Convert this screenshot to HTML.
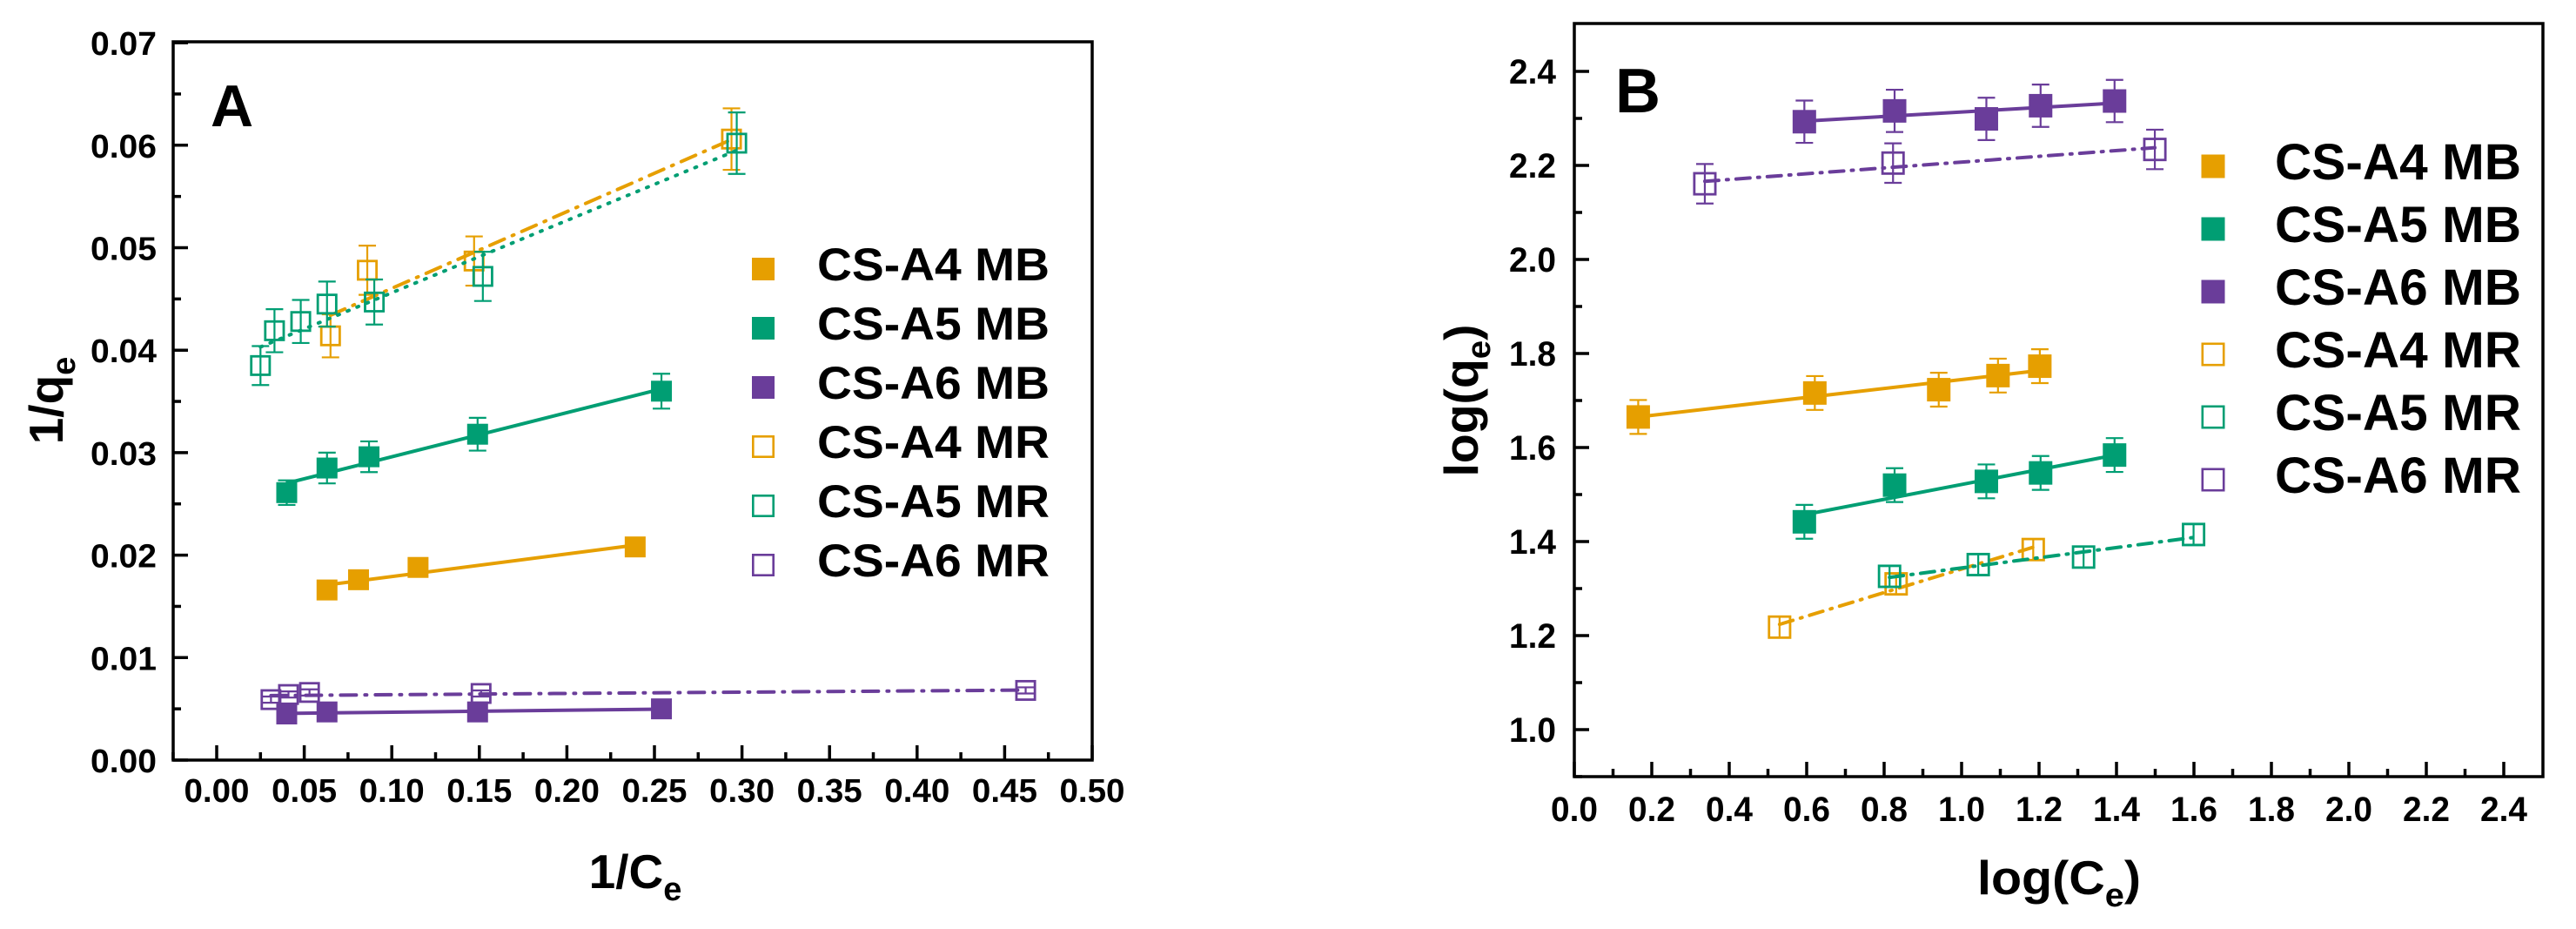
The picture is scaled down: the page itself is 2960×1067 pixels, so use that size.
<!DOCTYPE html>
<html><head><meta charset="utf-8">
<style>
html,body{margin:0;padding:0;background:#fff;}
svg{display:block;}
text{font-family:"Liberation Sans Narrow","Liberation Sans",Arial,sans-serif;font-weight:bold;fill:#000;}
</style></head>
<body>
<svg id="chart" width="2960" height="1067" viewBox="0 0 2960 1067" xmlns="http://www.w3.org/2000/svg">
  <g id="panelA"></g>
  <g id="panelB"></g>
</svg>
<script>
// ---------- Panel A data (1/Ce vs 1/qe) ----------
const seriesNames = ["CS-A4 MB","CS-A5 MB","CS-A6 MB","CS-A4 MR","CS-A5 MR","CS-A6 MR"];
const seriesColors = ["#E69F00","#009E73","#6A3D9A","#E69F00","#009E73","#6A3D9A"];
const aX_A4MB = [0.063,0.081,0.115,0.239];
const aY_A4MB = [0.0166,0.0176,0.0188,0.0208];
const aE_A4MB = [0.0006,0.0006,0.0006,0.0007];
const aX_A5MB = [0.040,0.063,0.087,0.149,0.254];
const aY_A5MB = [0.0261,0.0285,0.0296,0.0318,0.0360];
const aE_A5MB = [0.0012,0.0015,0.0015,0.0016,0.0017];
const aX_A6MB = [0.040,0.063,0.149,0.254];
const aY_A6MB = [0.0045,0.0047,0.0047,0.0050];
const aE_A6MB = [0.0002,0.0002,0.0002,0.0002];
const aX_A4MR = [0.065,0.086,0.147,0.294];
const aY_A4MR = [0.0414,0.0478,0.0487,0.0606];
const aE_A4MR = [0.0021,0.0024,0.0024,0.0030];
const aX_A5MR = [0.025,0.033,0.048,0.063,0.090,0.152,0.297];
const aY_A5MR = [0.0385,0.0419,0.0428,0.0445,0.0447,0.0472,0.0602];
const aE_A5MR = [0.0019,0.0021,0.0021,0.0022,0.0022,0.0024,0.0030];
const aX_A6MR = [0.031,0.041,0.053,0.151,0.462];
const aY_A6MR = [0.0059,0.0064,0.0066,0.0065,0.0068];
const aE_A6MR = [0.0003,0.0003,0.0003,0.0003,0.0003];
const aXTicks = [0.00,0.05,0.10,0.15,0.20,0.25,0.30,0.35,0.40,0.45,0.50];
const aXTickLabels = ["0.00","0.05","0.10","0.15","0.20","0.25","0.30","0.35","0.40","0.45","0.50"];
const aYTicks = [0.00,0.01,0.02,0.03,0.04,0.05,0.06,0.07];
const aYTickLabels = ["0.00","0.01","0.02","0.03","0.04","0.05","0.06","0.07"];

// ---------- Panel B data (log Ce vs log qe) ----------
const bX_A4MB = [0.165,0.621,0.941,1.094,1.202];
const bY_A4MB = [1.665,1.716,1.723,1.753,1.773];
const bX_A5MB = [0.594,0.827,1.064,1.204,1.395];
const bY_A5MB = [1.442,1.520,1.528,1.546,1.584];
const bX_A6MB = [0.594,0.827,1.064,1.204,1.395];
const bY_A6MB = [2.293,2.316,2.299,2.327,2.337];
const bX_A4MR = [0.530,0.831,1.185];
const bY_A4MR = [1.218,1.310,1.383];
const bX_A5MR = [0.814,1.043,1.315,1.599];
const bY_A5MR = [1.326,1.351,1.367,1.415];
const bX_A6MR = [0.337,0.823,1.499];
const bY_A6MR = [2.161,2.205,2.234];
const bErrMB = 0.036;
const bErrMR = 0.022;
const bErrA6MR = 0.042;
const bXTicks = [0.0,0.2,0.4,0.6,0.8,1.0,1.2,1.4,1.6,1.8,2.0,2.2,2.4];
const bXTickLabels = ["0.0","0.2","0.4","0.6","0.8","1.0","1.2","1.4","1.6","1.8","2.0","2.2","2.4"];
const bYTicks = [1.0,1.2,1.4,1.6,1.8,2.0,2.2,2.4];
const bYTickLabels = ["1.0","1.2","1.4","1.6","1.8","2.0","2.2","2.4"];

const NS = "http://www.w3.org/2000/svg";
function mk(parent, tag, attrs){
  const e = document.createElementNS(NS, tag);
  for (const k in attrs) e.setAttribute(k, attrs[k]);
  parent.appendChild(e);
  return e;
}
function fit(xs, ys){
  const n=xs.length; let sx=0,sy=0,sxx=0,sxy=0;
  for(let i=0;i<n;i++){sx+=xs[i];sy+=ys[i];sxx+=xs[i]*xs[i];sxy+=xs[i]*ys[i];}
  const m=(n*sxy-sx*sy)/(n*sxx-sx*sx); const b=(sy-m*sx)/n;
  return {m:m,b:b,x0:Math.min(...xs),x1:Math.max(...xs)};
}

function drawPanel(cfg){
  const g = cfg.g;
  const X = cfg.X, Y = cfg.Y;
  const frame = mk(g,"rect",{x:cfg.L,y:cfg.T,width:cfg.R-cfg.L,height:cfg.B-cfg.T,fill:"none",stroke:"#000","stroke-width":3.5});
  
  
  const xt = mk(g,"g",{});
  
  
  cfg.xTicks.forEach((v,i)=>{
    const px = X(v);
    mk(xt,"line",{x1:px,x2:px,y1:cfg.B,y2:cfg.B-17,stroke:"#000","stroke-width":3.5});
    const t = mk(xt,"text",{x:px,y:cfg.xLabBase,"text-anchor":"middle","font-size":cfg.tickFont,textLength:cfg.xLabW,lengthAdjust:"spacingAndGlyphs"});
    t.textContent = cfg.xLabels[i];
    
    
    if (i<cfg.xTicks.length-1){
      const mv=(v+cfg.xTicks[i+1])/2;
      mk(xt,"line",{x1:X(mv),x2:X(mv),y1:cfg.B,y2:cfg.B-9,stroke:"#000","stroke-width":3.5});
    }
  });
  if (cfg.xMinorFirst!==undefined){ const px=X(cfg.xMinorFirst); mk(xt,"line",{x1:px,x2:px,y1:cfg.B,y2:cfg.B-9,stroke:"#000","stroke-width":3.5}); }
  const yt = mk(g,"g",{});
  
  
  cfg.yTicks.forEach((v,i)=>{
    const py = Y(v);
    mk(yt,"line",{x1:cfg.L,x2:cfg.L+17,y1:py,y2:py,stroke:"#000","stroke-width":3.5});
    const t = mk(yt,"text",{x:cfg.yLabRight,y:py+14,"text-anchor":"end","font-size":cfg.tickFont,textLength:cfg.yLabW,lengthAdjust:"spacingAndGlyphs"});
    t.textContent = cfg.yLabels[i];
    
    
    if (i<cfg.yTicks.length-1){
      const mv=(v+cfg.yTicks[i+1])/2;
      mk(yt,"line",{x1:cfg.L,x2:cfg.L+9,y1:Y(mv),y2:Y(mv),stroke:"#000","stroke-width":3.5});
    }
  });
  if (cfg.yMinorFirst!==undefined){ const py=Y(cfg.yMinorFirst); mk(yt,"line",{x1:cfg.L,x2:cfg.L+9,y1:py,y2:py,stroke:"#000","stroke-width":3.5}); }

  cfg.series.forEach((s,si)=>{
    const sg = mk(g,"g",{});
    
    
    const f = fit(s.x, s.y);
    const ln = mk(sg,"line",{x1:X(f.x0),y1:Y(f.m*f.x0+f.b),x2:X(f.x1),y2:Y(f.m*f.x1+f.b),stroke:s.color,"stroke-width":4,"stroke-dasharray":s.dash||"none","stroke-linecap":s.dash?"round":"butt"});
    
    
    s.x.forEach((xv,i)=>{
      const px=X(xv), py=Y(s.y[i]);
      const e = s.err[i];
      const eb = mk(sg,"path",{d:`M${px},${Y(s.y[i]+e)}V${Y(s.y[i]-e)}M${px-cfg.cap},${Y(s.y[i]+e)}h${2*cfg.cap}M${px-cfg.cap},${Y(s.y[i]-e)}h${2*cfg.cap}`,stroke:s.color,"stroke-width":2.2,fill:"none"});
      
      
      const h = cfg.ms/2;
      let r;
      if (s.open) r = mk(sg,"rect",{x:px-h+1.4,y:py-h+1.4,width:cfg.ms-2.8,height:cfg.ms-2.8,fill:"none",stroke:s.color,"stroke-width":2.8});
      else r = mk(sg,"rect",{x:px-h,y:py-h,width:cfg.ms,height:cfg.ms,fill:s.color});
      
      
    });
  });

  const lg = mk(g,"g",{});
  
  
  seriesNames.forEach((n,i)=>{
    const cy = cfg.legY0 + i*cfg.legDy;
    const open = i>=3;
    const h = cfg.legMs/2;
    let r;
    if (open) r = mk(lg,"rect",{x:cfg.legX-h+1.3,y:cy-h+1.3,width:cfg.legMs-2.6,height:cfg.legMs-2.6,fill:"#fff",stroke:seriesColors[i],"stroke-width":2.6});
    else r = mk(lg,"rect",{x:cfg.legX-h,y:cy-h,width:cfg.legMs,height:cfg.legMs,fill:seriesColors[i]});
    
    
    const t = mk(lg,"text",{x:cfg.legTx,y:cy+cfg.legBase,"font-size":cfg.legFont,textLength:cfg.legW,lengthAdjust:"spacingAndGlyphs",style:'font-family:"Liberation Sans",Arial,sans-serif'});
    t.textContent = n;
    
    
  });
}

(function(){
  const g = document.getElementById("panelA");
  const X = v => 249 + v*2012;
  const Y = v => 873 - v*11770;
  drawPanel({g:g,id:"a",X:X,Y:Y,L:199,R:1255,T:48,B:873,
    xTicks:aXTicks,xLabels:aXTickLabels,yTicks:aYTicks,yLabels:aYTickLabels,
    xMinorFirst:-0.025+0.0001,
    tickFont:38,xLabBase:921,xLabW:75,yLabRight:180,yLabW:76,cap:10,ms:24,
    legX:877,legY0:309,legDy:68,legMs:26,legTx:939,legBase:13,legFont:53,legW:267,
    series:[
      {name:"CS-A4 MB",x:aX_A4MB,y:aY_A4MB,err:aE_A4MB,color:seriesColors[0]},
      {name:"CS-A5 MB",x:aX_A5MB,y:aY_A5MB,err:aE_A5MB,color:seriesColors[1]},
      {name:"CS-A6 MB",x:aX_A6MB,y:aY_A6MB,err:aE_A6MB,color:seriesColors[2]},
      {name:"CS-A4 MR",x:aX_A4MR,y:aY_A4MR,err:aE_A4MR,color:seriesColors[3],open:true,dash:"18 10 2 10"},
      {name:"CS-A5 MR",x:aX_A5MR,y:aY_A5MR,err:aE_A5MR,color:seriesColors[4],open:true,dash:"2 10"},
      {name:"CS-A6 MR",x:aX_A6MR,y:aY_A6MR,err:aE_A6MR,color:seriesColors[5],open:true,dash:"18 10 2 10"}
    ]});
  const lab = mk(g,"text",{x:242,y:145,"font-size":68,style:'font-family:"Liberation Sans",Arial,sans-serif'});
  lab.textContent = "A";
  
  
  const xt = mk(g,"text",{x:730,y:1020,"text-anchor":"middle","font-size":55});
  xt.innerHTML = '1/C<tspan font-size="38" dy="14">e</tspan>';
  
  
  const yt = mk(g,"text",{x:0,y:0,"text-anchor":"middle","font-size":55,transform:"translate(72,460) rotate(-90)"});
  yt.innerHTML = '1/q<tspan font-size="38" dy="14">e</tspan>';
  
  
})();

(function(){
  const g = document.getElementById("panelB");
  const X = v => 1809 + v*445;
  const Y = v => 838 - (v-1)*540;
  const mbE = n => Array(n).fill(bErrMB);
  const mrE = n => Array(n).fill(bErrMR);
  drawPanel({g:g,id:"b",X:X,Y:Y,L:1809,R:2922,T:27,B:892,
    xTicks:bXTicks,xLabels:bXTickLabels,yTicks:bYTicks,yLabels:bYTickLabels,
    yMinorFirst:0.9+0.0001,
    tickFont:40,xLabBase:943,xLabW:54,yLabRight:1788,yLabW:54,cap:10,ms:27,
    legX:2543,legY0:191,legDy:72,legMs:27,legTx:2614,legBase:15,legFont:58,legW:283,
    series:[
      {name:"CS-A4 MB",x:bX_A4MB,y:bY_A4MB,err:mbE(bX_A4MB.length),color:seriesColors[0]},
      {name:"CS-A5 MB",x:bX_A5MB,y:bY_A5MB,err:mbE(bX_A5MB.length),color:seriesColors[1]},
      {name:"CS-A6 MB",x:bX_A6MB,y:bY_A6MB,err:Array(bX_A6MB.length).fill(0.045),color:seriesColors[2]},
      {name:"CS-A4 MR",x:bX_A4MR,y:bY_A4MR,err:mrE(bX_A4MR.length),color:seriesColors[3],open:true,dash:"16 9 2 9"},
      {name:"CS-A5 MR",x:bX_A5MR,y:bY_A5MR,err:mrE(bX_A5MR.length),color:seriesColors[4],open:true,dash:"16 9 2 9"},
      {name:"CS-A6 MR",x:bX_A6MR,y:bY_A6MR,err:Array(bX_A6MR.length).fill(bErrA6MR),color:seriesColors[5],open:true,dash:"16 9 2 9"}
    ]});
  const lab = mk(g,"text",{x:1856,y:129,"font-size":72,style:'font-family:"Liberation Sans",Arial,sans-serif'});
  lab.textContent = "B";
  
  
  const xt = mk(g,"text",{x:2366,y:1027,"text-anchor":"middle","font-size":55,textLength:188,lengthAdjust:"spacingAndGlyphs"});
  xt.innerHTML = 'log(C<tspan font-size="38" dy="14">e</tspan><tspan dy="-14">)</tspan>';
  
  
  const yt = mk(g,"text",{x:0,y:0,"text-anchor":"middle","font-size":55,textLength:175,lengthAdjust:"spacingAndGlyphs",transform:"translate(1698,460) rotate(-90)"});
  yt.innerHTML = 'log(q<tspan font-size="38" dy="14">e</tspan><tspan dy="-14">)</tspan>';
  
  
})();
</script>
</body></html>
